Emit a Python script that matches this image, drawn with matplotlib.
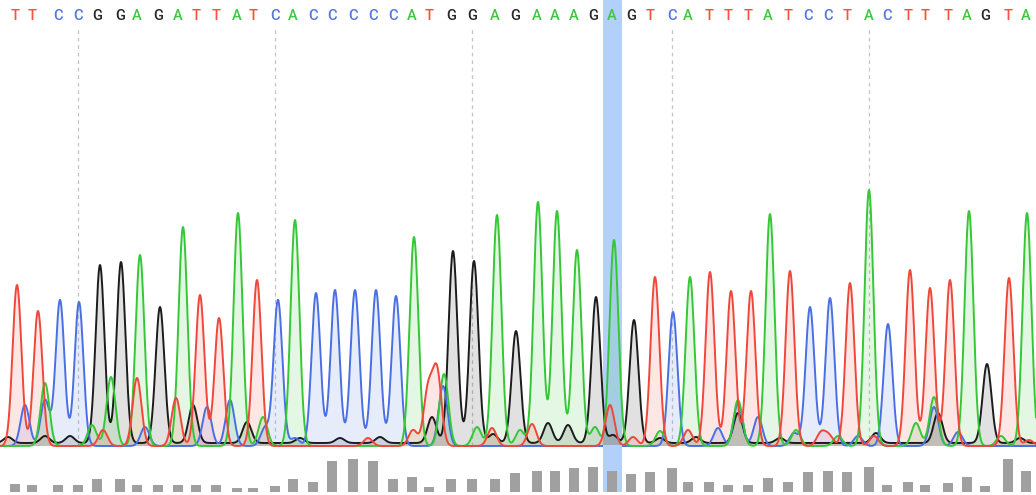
import matplotlib.pyplot as plt
import numpy as np

# base calls and their positions along the trace (scan units)
bases = "TTCCGGAGATTATCACCCCCATGGAGAAAGAGTCATTTATCCTACTTTAGTA"
base_pos = [15, 32, 58, 78, 97, 120, 137, 158, 178, 196, 216, 237, 253, 275, 293, 313, 332,
            353, 373, 393, 412, 429, 451, 472, 495, 515, 537, 555, 574, 593, 612, 631, 650,
            672, 688, 709, 728, 748, 768, 788, 808, 828, 847, 869, 887, 908, 925, 948, 967,
            985, 1008, 1026]
quality = [8, 7, 7, 7, 13, 13, 7, 7, 7, 7, 7, 4, 4, 6, 13, 10, 31, 33, 31, 13, 15, 5, 13, 13,
           13, 19, 21, 21, 24, 25, 21, 18, 20, 24, 10, 10, 7, 7, 14, 10, 20, 21, 20, 25, 7, 10,
           7, 9, 15, 6, 33, 21]
selected = 30

# main (called) peaks
peak_pos = [17, 38, 60, 79, 100, 121, 140, 160, 183, 200, 219, 238, 257, 278, 295, 316, 335,
            355, 376, 396, 414, 437, 453, 474, 497, 516, 538, 557, 577, 596, 614, 634, 655,
            673, 690, 710, 731, 751, 770, 790, 810, 830, 850, 869, 888, 910, 930, 950, 969,
            987, 1009, 1027]
peak_height = [161, 135, 146, 144, 178, 181, 191, 136, 219, 151, 128, 233, 166, 146, 226, 153,
               156, 156, 156, 150, 209, 74, 192, 182, 231, 112, 244, 235, 196, 146, 206, 123,
               169, 134, 169, 174, 155, 155, 232, 175, 139, 148, 163, 256, 122, 176, 158, 166,
               235, 79, 168, 233]

# secondary peaks per channel: (position, height)
minor_A = [(45, 63), (92, 21), (111, 69), (263, 29), (444, 72), (477, 19), (520, 16), (595, 19),
           (660, 15), (738, 46), (796, 16), (838, 10), (916, 23), (934, 49), (1001, 10)]
minor_C = [(25, 41), (45, 46), (145, 19), (207, 39), (230, 46), (265, 18), (295, 8), (443, 60),
           (718, 18), (738, 43), (758, 29), (794, 13), (858, 10), (934, 39), (958, 14)]
minor_G = [(8, 6), (45, 7), (70, 7), (193, 38), (247, 21), (300, 5), (340, 5), (380, 6),
           (432, 26), (493, 9), (548, 20), (568, 18), (613, 8), (660, 5), (696, 6), (738, 30),
           (780, 5), (876, 10), (938, 30), (1020, 5)]
minor_T = [(103, 16), (137, 68), (176, 48), (368, 8), (413, 16), (428, 55), (492, 18), (532, 22),
           (610, 41), (633, 9), (688, 16), (821, 13), (829, 10), (874, 10), (1029, 6)]

line_col = {'A': '#35c735', 'C': '#4a6fe3', 'G': '#1c1c1c', 'T': '#f0473b'}
text_col = {'A': '#3cc83c', 'C': '#5677e0', 'G': '#2a2a2a', 'T': '#f2533f'}
minor = {'A': minor_A, 'C': minor_C, 'G': minor_G, 'T': minor_T}

sigma = 4.4
x = np.linspace(0, 1036, 4000)

fig = plt.figure(figsize=(10.36, 4.95), dpi=100)
H = 495.0
ax_seq = fig.add_axes([0, (H - 27) / H, 1, 27 / H])
ax_tr = fig.add_axes([0, (H - 450) / H, 1, 423 / H])
ax_q = fig.add_axes([0, 3 / H, 1, 47 / H])

for ax in (ax_seq, ax_tr, ax_q):
    ax.set_xlim(0, 1036)
    ax.axis('off')
    ax.axvspan(base_pos[selected] - 9.5, base_pos[selected] + 9.5, color='#b3d0fa', zorder=0, lw=0)

# sequence letters
ax_seq.set_ylim(0, 27)
for b, p in zip(bases, base_pos):
    ax_seq.text(p, 11.5, b, color=text_col[b], ha='center', va='center', fontsize=10.5,
                family='Roboto', fontweight='medium')

# traces
ax_tr.set_ylim(-4, 419)
for p in base_pos[3::10]:
    ax_tr.axvline(p, ymin=4 / 423, ymax=1, color='#c4c4c4', lw=0.9, ls=(0, (3, 3)), zorder=1)

for ch in 'GCAT':
    y = np.zeros_like(x)
    for b, p, h in zip(bases, peak_pos, peak_height):
        if b == ch:
            y += h * np.exp(-0.5 * ((x - p) / sigma) ** 2)
    for p, h in minor[ch]:
        y += h * np.exp(-0.5 * ((x - p) / sigma) ** 2)
    if ch == 'G':
        y += 3
    ax_tr.fill_between(x, 0, y, color=line_col[ch], alpha=0.13, lw=0, zorder=2)
    ax_tr.plot(x, y, color=line_col[ch], lw=1.4, zorder=3)

# quality bars
ax_q.set_ylim(0, 47)
ax_q.bar(base_pos, quality, width=10, color='#a0a0a0', zorder=2)

fig.savefig('out.png', dpi=100)
